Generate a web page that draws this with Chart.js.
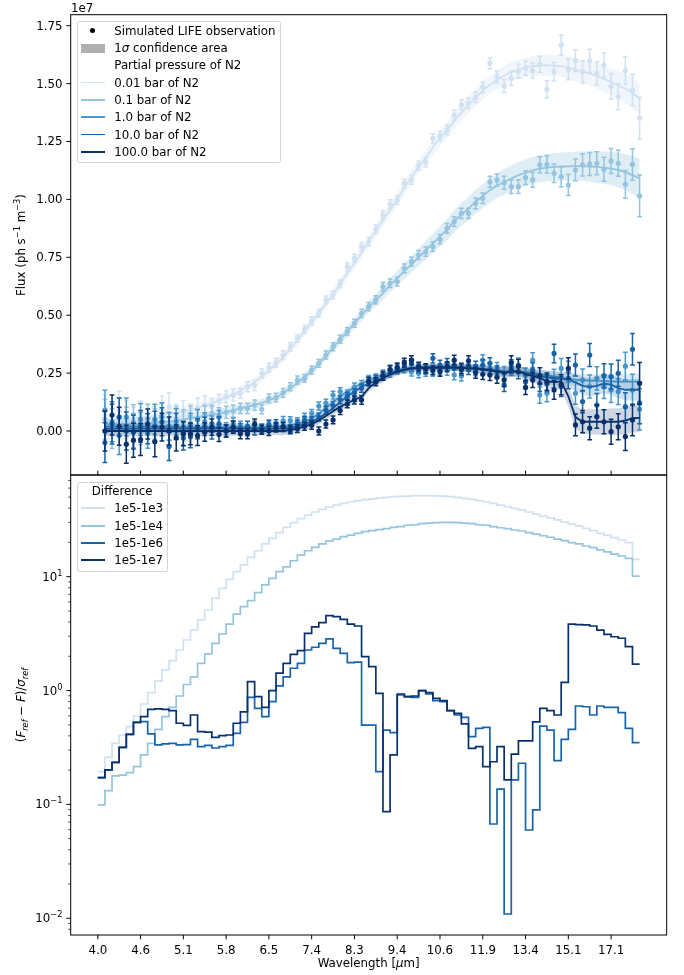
<!DOCTYPE html>
<html>
<head>
<meta charset="utf-8">
<script src="https://cdn.jsdelivr.net/npm/chart.js@4.4.0/dist/chart.umd.min.js"></script>
<style>
  body { margin: 0; background: #fff; font-family: "DejaVu Sans", sans-serif; }
  #wrap { position: relative; width: 684px; height: 975px; overflow: hidden; }
  canvas { position: absolute; left: 0; }
  #topChart { top: 0; }
  #botChart { top: 470px; }
  .txt { position: absolute; font-size: 11.8px; color: #000; white-space: nowrap; line-height: 16px; }
  .rot { transform: translate(-50%, -50%) rotate(-90deg); }
  .legbox { position: absolute; background: rgba(255,255,255,0.8); border: 1px solid #d4d4d4; border-radius: 3px; box-sizing: border-box; }
  .hline { position: absolute; height: 1.8px; }
  sub, sup { font-size: 70%; line-height: 0; }
</style>
</head>
<body>
<div id="wrap">
  <canvas id="topChart" width="684" height="482"></canvas>
  <canvas id="botChart" width="684" height="505"></canvas>
</div>
<script>
// x axis: spectral bin index, labelled with wavelength every 6 bins
const xTickIdx = [0, 6, 12, 18, 24, 30, 36, 42, 48, 54, 60, 66, 72];
const xTickLabels = ['4.0', '4.6', '5.1', '5.8', '6.5', '7.4', '8.3', '9.4', '10.6', '11.9', '13.4', '15.1', '17.1'];
const fluxTicks = [0, 0.25, 0.5, 0.75, 1.0, 1.25, 1.5, 1.75];

const pressureLabels = ['0.01 bar of N2', '0.1 bar of N2', '1.0 bar of N2', '10.0 bar of N2', '100.0 bar of N2'];
const colors = ['#d0e1f2', '#94c4df', '#4a98c9', '#1764ab', '#08306b'];

// retrieved model spectra (flux, units of 1e7 ph s-1 m-3), bins 1..76
const model001 = [
0.05,0.05,0.05,0.05,0.055,0.06,0.06,0.065,0.07,0.075,
0.08,0.085,0.09,0.10,0.11,0.12,0.132,0.145,0.158,0.173,
0.19,0.21,0.235,0.262,0.29,0.32,0.355,0.39,0.43,0.47,
0.51,0.55,0.59,0.635,0.68,0.725,0.77,0.82,0.865,0.91,
0.955,1.0,1.05,1.095,1.14,1.18,1.225,1.265,1.30,1.34,
1.375,1.41,1.44,1.47,1.495,1.515,1.535,1.55,1.56,1.57,
1.575,1.578,1.58,1.578,1.575,1.57,1.56,1.552,1.543,1.533,
1.52,1.507,1.493,1.478,1.46,1.435];
const model01 = [
0.03,0.03,0.03,0.03,0.03,0.03,0.035,0.035,0.04,0.04,
0.045,0.05,0.055,0.06,0.065,0.07,0.075,0.082,0.09,0.097,
0.105,0.113,0.122,0.132,0.145,0.163,0.185,0.207,0.232,0.26,
0.29,0.325,0.36,0.395,0.43,0.465,0.50,0.535,0.565,0.595,
0.63,0.66,0.69,0.72,0.75,0.78,0.81,0.84,0.87,0.905,
0.935,0.96,0.99,1.015,1.04,1.06,1.075,1.09,1.105,1.115,
1.125,1.133,1.137,1.14,1.142,1.143,1.144,1.144,1.142,1.14,
1.137,1.133,1.127,1.118,1.105,1.09];
const model1 = [
0.02,0.02,0.02,0.02,0.02,0.02,0.02,0.02,0.02,0.02,
0.015,0.015,0.015,0.015,0.015,0.015,0.015,0.015,0.015,0.015,
0.015,0.015,0.015,0.02,0.02,0.02,0.025,0.03,0.04,0.055,
0.075,0.10,0.125,0.15,0.17,0.19,0.205,0.22,0.232,0.243,
0.253,0.262,0.268,0.272,0.275,0.277,0.278,0.278,0.278,0.277,
0.276,0.275,0.273,0.27,0.266,0.262,0.258,0.256,0.256,0.255,
0.25,0.245,0.24,0.235,0.23,0.225,0.222,0.22,0.218,0.216,
0.215,0.214,0.213,0.213,0.213,0.213];
const model10 = [
0.01,0.01,0.01,0.01,0.01,0.01,0.01,0.01,0.01,0.01,
0.01,0.01,0.01,0.01,0.01,0.01,0.01,0.01,0.01,0.01,
0.01,0.01,0.01,0.01,0.01,0.01,0.015,0.02,0.03,0.04,
0.055,0.075,0.10,0.125,0.15,0.17,0.19,0.205,0.218,0.23,
0.242,0.253,0.262,0.268,0.272,0.274,0.275,0.275,0.275,0.275,
0.274,0.273,0.27,0.266,0.26,0.256,0.255,0.258,0.258,0.25,
0.243,0.237,0.232,0.228,0.225,0.222,0.21,0.195,0.19,0.195,
0.205,0.2,0.185,0.178,0.178,0.178];
const model100 = [
0,0,0,0,0,0,0,0,0,0,
0,0,0,0,0,0,0,0,0,0,
0,0,0,0,0,0,0.005,0.01,0.02,0.03,
0.045,0.065,0.085,0.105,0.12,0.135,0.148,0.185,0.21,0.227,
0.245,0.258,0.265,0.27,0.272,0.273,0.273,0.273,0.273,0.273,
0.272,0.27,0.268,0.266,0.262,0.258,0.252,0.255,0.258,0.245,
0.237,0.228,0.215,0.21,0.215,0.15,0.06,0.04,0.04,0.04,
0.04,0.04,0.04,0.045,0.055,0.057];

// simulated observations
const obs001 = [
0.07,0.04,0.09,0.05,0.03,0.06,0.05,0.04,0.09,0.105,
0.06,0.08,0.07,0.10,0.112,0.105,0.13,0.148,0.155,0.163,
0.191,0.197,0.249,0.275,0.295,0.328,0.364,0.40,0.439,0.476,
0.508,0.566,0.587,0.635,0.709,0.746,0.796,0.817,0.871,0.933,
0.98,0.997,1.069,1.084,1.146,1.16,1.264,1.274,1.30,1.364,
1.408,1.415,1.441,1.484,1.588,1.53,1.49,1.523,1.554,1.566,
1.556,1.583,1.475,1.551,1.667,1.562,1.599,1.551,1.598,1.544,
1.58,1.487,1.443,1.556,1.472,1.35];
const obs01 = [
0.05,0.01,0.06,0.02,0.04,0.01,0.05,0.03,0.06,0.02,
0.05,0.04,0.06,0.05,0.07,0.075,0.07,0.081,0.086,0.098,
0.098,0.112,0.094,0.141,0.144,0.165,0.191,0.22,0.227,0.263,
0.292,0.328,0.364,0.396,0.429,0.465,0.508,0.537,0.566,0.623,
0.638,0.645,0.702,0.731,0.76,0.774,0.796,0.828,0.875,0.904,
0.94,0.94,0.983,1.005,1.076,1.084,1.072,1.055,1.055,1.094,
1.084,1.149,1.151,1.113,1.098,1.062,1.127,1.149,1.153,1.156,
1.13,1.166,1.156,1.065,1.151,1.015];
const obs1 = [
0.09,0.04,-0.02,0.06,0.0,0.05,-0.01,0.05,0.062,0.02,
0.04,-0.01,0.03,0.05,0.04,0.03,0.059,0.01,0.03,0.02,
0.0,0.02,0.01,0.03,0.02,0.044,0.045,0.04,0.06,0.076,
0.108,0.12,0.155,0.17,0.16,0.19,0.2,0.222,0.228,0.245,
0.25,0.265,0.27,0.256,0.249,0.256,0.256,0.262,0.262,0.242,
0.238,0.28,0.262,0.306,0.27,0.27,0.25,0.27,0.285,0.242,
0.306,0.155,0.163,0.227,0.27,0.256,0.163,0.22,0.192,0.227,
0.192,0.177,0.17,0.28,0.177,0.094];
const obs10 = [
-0.05,0.03,0.06,0.0,-0.005,0.02,0.01,0.02,0.04,-0.067,
0.02,-0.03,-0.025,0.01,0.02,0.0,0.03,0.0,0.015,0.01,
0.02,0.005,0.01,0.025,0.03,0.02,0.01,0.03,0.045,0.045,
0.06,0.09,0.11,0.135,0.15,0.165,0.185,0.215,0.223,0.24,
0.266,0.27,0.285,0.292,0.27,0.266,0.314,0.285,0.292,0.285,
0.263,0.266,0.278,0.285,0.292,0.256,0.199,0.278,0.256,0.213,
0.263,0.206,0.206,0.335,0.192,0.227,0.285,0.127,0.328,0.112,
0.238,0.235,0.249,0.105,0.353,0.121];
const obs100 = [
0.0,0.069,0.02,-0.057,-0.04,-0.037,0.03,-0.046,0.017,0.0,
-0.03,-0.012,-0.012,-0.02,-0.005,0.017,-0.015,0.0,0.017,-0.012,
-0.012,0.03,0.005,0.0,0.015,0.017,0.005,0.01,0.02,0.025,
0.0,0.03,0.048,0.088,0.117,0.134,0.134,0.213,0.213,0.237,
0.263,0.275,0.295,0.306,0.278,0.27,0.263,0.256,0.278,0.306,
0.27,0.303,0.251,0.245,0.242,0.232,0.22,0.295,0.28,0.188,
0.22,0.238,0.213,0.177,0.2,0.271,0.026,0.04,0.012,0.062,
0.04,-0.003,0.018,-0.024,0.048,0.206];

// 1 sigma noise of the observation per bin
const sigma = [
0.086,0.086,0.082,0.082,0.073,0.069,0.065,0.065,0.06,0.06,
0.056,0.052,0.047,0.043,0.039,0.035,0.03,0.026,0.026,0.022,
0.022,0.022,0.019,0.019,0.019,0.019,0.017,0.017,0.017,0.017,
0.017,0.017,0.017,0.017,0.017,0.017,0.018,0.018,0.018,0.018,
0.018,0.019,0.019,0.019,0.019,0.02,0.02,0.02,0.021,0.021,
0.022,0.022,0.023,0.023,0.024,0.026,0.028,0.03,0.03,0.03,
0.032,0.035,0.037,0.04,0.043,0.045,0.047,0.048,0.05,0.05,
0.052,0.054,0.056,0.06,0.068,0.09];

// half width of the 1 sigma confidence area of each retrieved spectrum
const band001 = [
0.025,0.025,0.025,0.025,0.025,0.025,0.025,0.025,0.025,0.025,
0.022,0.022,0.022,0.022,0.02,0.02,0.02,0.02,0.02,0.02,
0.02,0.02,0.02,0.02,0.02,0.02,0.02,0.02,0.02,0.02,
0.02,0.02,0.022,0.022,0.022,0.024,0.024,0.024,0.026,0.026,
0.026,0.028,0.028,0.03,0.03,0.032,0.032,0.034,0.034,0.036,
0.036,0.038,0.038,0.04,0.04,0.04,0.042,0.042,0.042,0.044,
0.044,0.044,0.046,0.046,0.048,0.048,0.05,0.05,0.052,0.054,
0.056,0.058,0.06,0.062,0.065,0.068];
const band01 = [
0.022,0.022,0.022,0.022,0.022,0.022,0.022,0.022,0.022,0.022,
0.02,0.02,0.02,0.02,0.02,0.02,0.02,0.02,0.02,0.02,
0.018,0.018,0.018,0.018,0.018,0.018,0.018,0.018,0.018,0.018,
0.018,0.018,0.02,0.02,0.022,0.022,0.024,0.024,0.026,0.028,
0.03,0.032,0.034,0.036,0.038,0.04,0.042,0.044,0.046,0.048,
0.05,0.05,0.052,0.052,0.054,0.054,0.056,0.056,0.056,0.058,
0.058,0.058,0.06,0.06,0.06,0.062,0.062,0.064,0.066,0.068,
0.07,0.072,0.075,0.078,0.082,0.086];
const band1 = [
0.022,0.022,0.022,0.022,0.022,0.022,0.022,0.022,0.022,0.022,
0.02,0.02,0.02,0.02,0.02,0.02,0.02,0.02,0.02,0.02,
0.018,0.018,0.018,0.018,0.018,0.018,0.018,0.018,0.018,0.018,
0.016,0.016,0.016,0.016,0.016,0.016,0.016,0.016,0.016,0.016,
0.014,0.014,0.014,0.014,0.014,0.014,0.014,0.014,0.014,0.014,
0.015,0.015,0.016,0.016,0.017,0.017,0.018,0.018,0.019,0.019,
0.02,0.021,0.022,0.023,0.024,0.025,0.026,0.027,0.028,0.029,
0.03,0.03,0.031,0.032,0.033,0.035];
const band10 = [
0.022,0.022,0.022,0.022,0.022,0.022,0.022,0.022,0.022,0.022,
0.02,0.02,0.02,0.02,0.02,0.02,0.02,0.02,0.02,0.02,
0.018,0.018,0.018,0.018,0.018,0.018,0.018,0.018,0.018,0.018,
0.016,0.016,0.016,0.016,0.016,0.016,0.016,0.016,0.016,0.016,
0.014,0.014,0.014,0.014,0.014,0.014,0.014,0.014,0.014,0.014,
0.016,0.016,0.017,0.018,0.019,0.02,0.021,0.022,0.023,0.024,
0.025,0.026,0.028,0.03,0.032,0.034,0.036,0.038,0.04,0.041,
0.042,0.043,0.044,0.045,0.046,0.048];
const band100 = [
0.022,0.022,0.022,0.022,0.022,0.022,0.022,0.022,0.022,0.022,
0.02,0.02,0.02,0.02,0.02,0.02,0.02,0.02,0.02,0.02,
0.018,0.018,0.018,0.018,0.018,0.018,0.018,0.018,0.018,0.018,
0.016,0.016,0.016,0.016,0.016,0.016,0.016,0.016,0.016,0.016,
0.014,0.014,0.014,0.014,0.014,0.014,0.014,0.014,0.014,0.014,
0.016,0.017,0.018,0.019,0.02,0.021,0.022,0.023,0.024,0.025,
0.026,0.028,0.03,0.033,0.036,0.045,0.05,0.052,0.054,0.055,
0.056,0.057,0.058,0.059,0.06,0.062];

// lower panel: (F_ref - F)/sigma_ref per bin (bins 0..75), reference 1e5 Pa
const diffLabels = ['1e5-1e3', '1e5-1e4', '1e5-1e6', '1e5-1e7'];
const diffColors = ['#d0e1f2', '#94c4df', '#1764ab', '#08306b'];
const diff1e3 = [
0.194,0.259,0.344,0.407,0.482,0.598,0.762,0.958,1.21,1.52,
1.83,2.27,2.78,3.40,4.17,5.10,6.46,7.90,9.48,11.1,
12.7,14.8,16.9,19.4,21.7,24.4,27.1,29.8,32.3,34.8,
37.0,39.0,40.9,42.6,44.1,45.3,46.5,47.5,48.1,49.2,
49.8,50.5,50.8,51.1,51.5,51.5,51.5,51.3,51.1,50.5,
49.8,48.8,47.8,46.5,45.3,44.1,42.6,41.2,39.8,38.5,
37.0,35.5,34.1,32.8,31.5,30.2,29.0,27.9,26.6,25.4,
24.0,23.1,22.0,21.0,19.9,14.2];
const diff1e4 = [
0.0989,0.132,0.178,0.181,0.190,0.215,0.272,0.344,0.457,0.590,
0.712,0.896,1.13,1.32,1.73,2.10,2.60,3.14,3.84,4.70,
5.46,6.16,7.24,8.46,9.67,11.1,12.2,13.8,15.5,16.9,
18.1,19.4,20.6,21.4,22.5,23.2,24.0,24.9,25.4,25.9,
26.4,27.1,27.5,28.3,28.6,29.2,29.6,29.8,30.0,30.0,
29.8,29.6,29.2,28.6,28.3,27.5,26.9,26.4,25.7,25.2,
24.4,23.7,22.9,22.2,21.4,20.7,19.9,19.4,18.6,18.0,
17.2,16.5,15.8,15.2,14.5,10.1];
const diff1e6 = [
0.172,0.201,0.234,0.317,0.413,0.526,0.533,0.416,0.333,0.340,
0.344,0.333,0.335,0.373,0.322,0.330,0.313,0.322,0.330,0.421,
0.526,0.872,0.698,0.590,0.799,1.10,1.32,1.57,1.73,2.27,
2.40,2.60,2.84,2.35,2.12,1.76,1.78,0.498,0.498,0.194,
0.450,0.427,0.914,0.884,0.872,0.998,0.933,0.815,0.799,0.666,
0.610,0.582,0.394,0.466,0.475,0.0673,0.136,0.0109,0.164,0.230,
0.0596,0.0894,0.488,0.450,0.242,0.373,0.457,0.732,0.721,0.610,
0.732,0.712,0.712,0.640,0.466,0.349];
const diff1e7 = [
0.172,0.201,0.234,0.317,0.413,0.526,0.590,0.684,0.690,0.684,
0.666,0.516,0.495,0.610,0.436,0.432,0.388,0.402,0.407,0.516,
0.649,1.20,0.884,0.712,0.998,1.42,1.73,2.08,2.24,3.18,
3.62,3.95,4.55,4.46,4.22,3.84,3.69,1.99,1.62,0.946,
0.0864,0.272,0.933,0.884,0.896,0.998,0.958,0.855,0.815,0.666,
0.631,0.509,0.311,0.322,0.215,0.237,0.322,0.164,0.277,0.361,
0.362,0.530,0.698,0.666,0.610,1.18,3.84,3.79,3.77,3.69,
3.40,3.12,2.97,2.88,2.43,1.71];

const models = [model001, model01, model1, model10, model100];
const observations = [obs001, obs01, obs1, obs10, obs100];
const bands = [band001, band01, band1, band10, band100];
const diffs = [diff1e3, diff1e4, diff1e6, diff1e7];

Chart.defaults.font.family = '"DejaVu Sans", sans-serif';
Chart.defaults.font.size = 11.8;
Chart.defaults.color = '#000';

function rgba(hex, a) {
  const n = parseInt(hex.slice(1), 16);
  return `rgba(${n >> 16},${(n >> 8) & 255},${n & 255},${a})`;
}
// observation points sit on bins 1..76
const pts = arr => arr.map((v, i) => ({ x: i + 1, y: v }));

// error bars, drawn just before the point dataset they belong to
const errBars = {
  id: 'errBars',
  beforeDatasetDraw(chart, args) {
    const ds = chart.data.datasets[args.index];
    if (!ds.errors) return;
    const { ctx, chartArea: a } = chart;
    const xs = chart.scales.x, ys = chart.scales.y;
    ctx.save();
    ctx.beginPath();
    ctx.rect(a.left, a.top, a.right - a.left, a.bottom - a.top);
    ctx.clip();
    ctx.strokeStyle = ds.pointBackgroundColor;
    ctx.lineWidth = 1.5;
    ds.data.forEach((p, i) => {
      const px = xs.getPixelForValue(p.x);
      const y1 = ys.getPixelForValue(p.y - ds.errors[i]);
      const y2 = ys.getPixelForValue(p.y + ds.errors[i]);
      ctx.beginPath();
      ctx.moveTo(px, y1); ctx.lineTo(px, y2);
      ctx.moveTo(px - 2.4, y1); ctx.lineTo(px + 2.4, y1);
      ctx.moveTo(px - 2.4, y2); ctx.lineTo(px + 2.4, y2);
      ctx.stroke();
    });
    ctx.restore();
  }
};

// matplotlib-like frame and tick marks
const mplAxes = {
  id: 'mplAxes',
  afterDraw(chart, args, opts) {
    const { ctx, chartArea: a } = chart;
    const xs = chart.scales.x, ys = chart.scales.y;
    ctx.save();
    ctx.strokeStyle = '#000';
    ctx.lineWidth = 1;
    ctx.strokeRect(a.left, a.top, a.right - a.left, a.bottom - a.top);
    ctx.beginPath();
    xTickIdx.forEach(v => {
      const px = xs.getPixelForValue(v);
      ctx.moveTo(px, a.bottom);
      ctx.lineTo(px, a.bottom + opts.xDir * 4.3);
    });
    ctx.stroke();
    opts.yTicks.forEach(v => {
      const py = ys.getPixelForValue(v);
      const minor = opts.log && Math.abs(Math.log10(v) - Math.round(Math.log10(v))) > 1e-6;
      ctx.beginPath();
      ctx.lineWidth = minor ? 0.75 : 1;
      ctx.moveTo(a.left, py);
      ctx.lineTo(a.left - (minor ? 2.4 : 4.3), py);
      ctx.stroke();
    });
    ctx.restore();
  }
};

// keep the plot area where the figure has it
function pinArea(chart, wantTop, wantBottom) {
  const a = chart.chartArea, p = chart.options.layout.padding;
  p.top += wantTop - a.top;
  p.bottom += a.bottom - wantBottom;
  chart.update();
}

// ---- upper panel ----
const topSets = [];
models.forEach((m, s) => {
  const c = colors[s];
  topSets.push({ data: pts(m.map((v, i) => v - bands[s][i])), borderColor: 'rgba(0,0,0,0)', borderWidth: 0, pointRadius: 0, fill: false });
  topSets.push({ data: pts(m.map((v, i) => v + bands[s][i])), borderColor: 'rgba(0,0,0,0)', borderWidth: 0, pointRadius: 0, fill: '-1', backgroundColor: rgba(c, s < 2 ? 0.3 : 0.2) });
  topSets.push({ data: pts(m), borderColor: c, borderWidth: 1.8, pointRadius: 0, fill: false, tension: 0 });
  topSets.push({ data: pts(observations[s]), showLine: false, pointRadius: 2.6, pointBorderWidth: 0, pointBackgroundColor: c, errors: sigma });
});
topSets.forEach((d, i) => { d.order = topSets.length - i; });

const topChart = new Chart(document.getElementById('topChart'), {
  type: 'line',
  data: { datasets: topSets },
  options: {
    responsive: false, animation: false, devicePixelRatio: 1, events: [],
    layout: { padding: { top: 14.7, right: 17.3, bottom: 7, left: 0 } },
    plugins: { legend: { display: false }, tooltip: { enabled: false }, mplAxes: { xDir: -1, log: false, yTicks: fluxTicks } },
    scales: {
      x: { type: 'linear', min: -3.8, max: 79.8, display: false },
      y: {
        type: 'linear', min: -0.19, max: 1.7975,
        afterFit: s => { s.width = 70.7; },
        grid: { display: false, drawTicks: false }, border: { display: false },
        ticks: { display: false }
      }
    }
  },
  plugins: [errBars, mplAxes]
});
pinArea(topChart, 14.7, 475);

// ---- lower panel ----
const logMin = 0.00713, logMax = 78.2;
const logTicks = [];
for (let e = -3; e <= 1; e++) for (let m = 1; m <= 9; m++) {
  const v = m * Math.pow(10, e);
  if (v >= logMin && v <= logMax) logTicks.push(v);
}
const logMajor = [0.01, 0.1, 1, 10];
const logMajorLabels = ['10<sup>\u22122</sup>', '10<sup>\u22121</sup>', '10<sup>0</sup>', '10<sup>1</sup>'];

const botSets = diffs.map((d, s) => ({
  data: d.concat([d[d.length - 1]]).map((v, i) => ({ x: i, y: v })),
  borderColor: diffColors[s], borderWidth: 1.7, pointRadius: 0, fill: false, stepped: 'before'
}));
botSets.forEach((d, i) => { d.order = botSets.length - i; });

const botChart = new Chart(document.getElementById('botChart'), {
  type: 'line',
  data: { datasets: botSets },
  options: {
    responsive: false, animation: false, devicePixelRatio: 1, events: [],
    layout: { padding: { top: 5, right: 17.3, bottom: 0, left: 0 } },
    plugins: { legend: { display: false }, tooltip: { enabled: false }, mplAxes: { xDir: 1, log: true, yTicks: logTicks } },
    scales: {
      x: {
        type: 'linear', min: -3.8, max: 79.8,
        afterBuildTicks: s => { s.ticks = xTickIdx.map(v => ({ value: v })); },
        afterFit: s => { s.height = 40; },
        grid: { display: false, drawTicks: false }, border: { display: false },
        ticks: { padding: 8.8, maxRotation: 0, autoSkip: false, color: '#000',
          callback: v => xTickLabels[xTickIdx.indexOf(v)] }
      },
      y: {
        type: 'logarithmic', min: logMin, max: logMax,
        afterFit: s => { s.width = 70.7; },
        grid: { display: false, drawTicks: false }, border: { display: false },
        ticks: { display: false }
      }
    }
  },
  plugins: [mplAxes]
});
pinArea(botChart, 5, 465);

// ---- text and legends (html) ----
const wrap = document.getElementById('wrap');
function addText(html, css) {
  const el = document.createElement('div');
  el.className = 'txt';
  el.innerHTML = html;
  Object.assign(el.style, css);
  wrap.appendChild(el);
  return el;
}
// y tick labels placed with the chart's own scales
const labelRight = (684 - 62.4) + 'px';
fluxTicks.forEach(v => {
  const py = topChart.scales.y.getPixelForValue(v);
  addText(v.toFixed(2), { right: labelRight, top: (py - 8) + 'px' });
});
logMajor.forEach((v, i) => {
  const py = 470 + botChart.scales.y.getPixelForValue(v);
  addText(logMajorLabels[i], { right: labelRight, top: (py - 8) + 'px' });
});

addText('1e7', { left: '71px', top: '0px' });
addText('Flux (ph s<sup>\u22121</sup> m<sup>\u22123</sup>)', { left: '21px', top: '245px' }).classList.add('rot');
addText('(<i>F</i><sub><i>ref</i></sub> \u2212 <i>F</i>)/<i>\u03C3</i><sub><i>ref</i></sub>', { left: '21px', top: '705px' }).classList.add('rot');
addText('Wavelength [<i>\u03BC</i>m]', { left: '368.7px', top: '963px', transform: 'translate(-50%,-50%)' });

function addBox(l, t, w, h) {
  const b = document.createElement('div');
  b.className = 'legbox';
  Object.assign(b.style, { left: l + 'px', top: t + 'px', width: w + 'px', height: h + 'px' });
  wrap.appendChild(b);
}
function addLine(color, cy) {
  const el = document.createElement('div');
  el.className = 'hline';
  Object.assign(el.style, { left: '80.7px', width: '24.3px', top: (cy - 0.9) + 'px', background: color });
  wrap.appendChild(el);
}

addBox(76.7, 20.7, 204, 142.6);
const rowY = [30.7, 48, 65.3, 82.6, 99.9, 117.2, 134.5, 151.8];
const dot = document.createElement('div');
Object.assign(dot.style, { position: 'absolute', left: '90.3px', top: (rowY[0] - 2.5) + 'px', width: '5px', height: '5px', borderRadius: '50%', background: '#000' });
wrap.appendChild(dot);
addText('Simulated LIFE observation', { left: '114.3px', top: (rowY[0] - 8) + 'px' });
const patch = document.createElement('div');
Object.assign(patch.style, { position: 'absolute', left: '80.7px', top: (rowY[1] - 4.5) + 'px', width: '24.3px', height: '9px', background: '#b0b0b0' });
wrap.appendChild(patch);
addText('1<i>\u03C3</i> confidence area', { left: '114.3px', top: (rowY[1] - 8) + 'px' });
addText('Partial pressure of N2', { left: '114.3px', top: (rowY[2] - 8) + 'px' });
pressureLabels.forEach((t, i) => {
  addLine(colors[i], rowY[3 + i]);
  addText(t, { left: '114.3px', top: (rowY[3 + i] - 8) + 'px' });
});

addBox(76.7, 481.7, 91, 90);
addText('Difference', { left: '122.2px', top: '490.7px', transform: 'translate(-50%,-50%)' });
diffLabels.forEach((t, i) => {
  const cy = 508.3 + 17.33 * i;
  addLine(diffColors[i], cy);
  addText(t, { left: '114.3px', top: (cy - 8) + 'px' });
});
</script>
</body>
</html>
